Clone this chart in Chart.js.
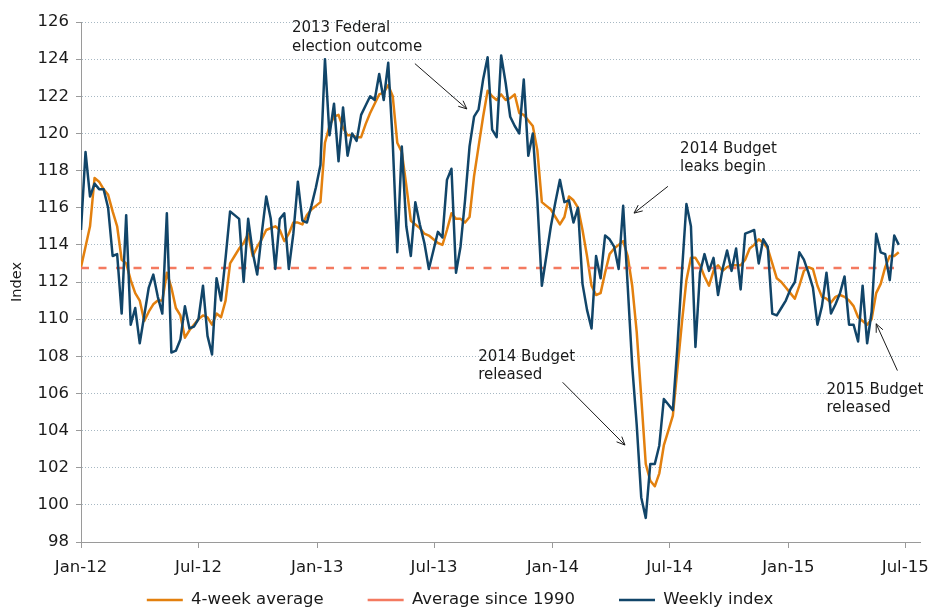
<!DOCTYPE html>
<html>
<head>
<meta charset="utf-8">
<script src="https://cdn.jsdelivr.net/npm/chart.js@4/dist/chart.umd.min.js"></script>
<style>
  html, body { margin: 0; padding: 0; background: #fff; }
  canvas { display: block; }
</style>
</head>
<body>
<canvas id="chart" width="931" height="608"></canvas>
<script>
// weekly consumer sentiment index, first week of Jan 2012 onwards (182 weeks)
const weeklyIndex = [
  114.8, 119.0, 116.6, 117.3, 117.0, 117.0, 116.0, 113.4, 113.5, 110.3,
  115.6, 109.7, 110.6, 108.7, 110.2, 111.7, 112.4, 111.2, 110.3, 115.7,
  108.2, 108.3, 108.9, 110.7, 109.5, 109.6, 110.0, 111.8, 109.1, 108.1,
  112.2, 111.0, 113.3, 115.8, 115.6, 115.4, 112.0, 115.4, 113.6, 112.4,
  114.6, 116.6, 115.4, 112.7, 115.4, 115.7, 112.7, 114.6, 117.4, 115.3,
  115.2, 116.1, 117.1, 118.3, 124.0, 119.9, 121.6, 118.5, 121.4, 118.8,
  120.0, 119.6, 121.0, 121.5, 122.0, 121.8, 123.2, 121.8, 123.8, 119.5,
  113.6, 119.3, 115.0, 113.4, 116.3, 115.1, 114.1, 112.7, 113.7, 114.7,
  114.4, 117.5, 118.1, 112.5, 113.9, 116.4, 119.3, 120.9, 121.3, 122.9,
  124.1, 120.2, 119.8, 124.2, 122.7, 120.9, 120.4, 120.0, 122.9, 118.8,
  120.0, 116.4, 111.8, 113.4, 115.0, 116.3, 117.5, 116.3, 116.4, 115.2,
  116.0, 111.9, 110.5, 109.5, 113.4, 112.2, 114.5, 114.3, 113.9, 112.7,
  116.1, 111.8, 107.5, 104.3, 100.4, 99.3, 102.2, 102.2, 103.2, 105.7,
  105.4, 105.1, 108.5, 112.5, 116.2, 115.0, 108.5, 112.5, 113.5, 112.6,
  113.3, 111.3, 112.7, 113.7, 112.6, 113.8, 111.6, 114.6, 114.7, 114.8,
  113.0, 114.3, 113.9, 110.3, 110.2, 110.6, 111.0, 111.6, 112.0, 113.6,
  113.2, 112.5, 111.7, 109.7, 110.7, 112.5, 110.3, 110.8, 111.4, 112.3,
  109.7, 109.7, 108.8, 111.8, 108.7, 110.4, 114.6, 113.6, 113.5, 112.1,
  114.5, 114.0
];

const fourWeekAvg = [
  112.8, 113.9, 115.0, 117.6, 117.4, 117.0, 116.7, 115.8, 115.0, 113.2,
  113.0, 112.1, 111.4, 111.0, 109.9, 110.4, 110.8, 111.0, 111.0, 112.5,
  111.7, 110.6, 110.2, 109.0, 109.4, 109.7, 110.0, 110.2, 110.1, 109.7,
  110.3, 110.1, 111.0, 113.0, 113.4, 113.8, 114.1, 114.6, 113.4, 113.9,
  114.3, 114.8, 114.9, 115.0, 114.8, 114.2, 114.6, 115.2, 115.2, 115.1,
  115.6, 115.9, 116.1, 116.3, 119.5, 120.4, 120.9, 121.0, 120.3, 119.9,
  119.9, 119.8, 119.8, 120.5, 121.1, 121.6, 122.1, 122.2, 122.6, 122.0,
  119.5, 119.0, 117.2, 115.3, 115.1, 114.9, 114.6, 114.5, 114.3, 114.1,
  114.0, 114.8, 115.7, 115.4, 115.4, 115.2, 115.5, 117.7, 119.3, 120.9,
  122.3, 122.0, 121.8, 122.1, 121.8, 121.9, 122.1, 121.1, 121.0, 120.7,
  120.4, 119.1, 116.3, 116.1, 115.9, 115.5, 115.1, 115.5, 116.6, 116.4,
  116.0, 114.8, 113.4, 111.8, 111.3, 111.4, 112.5, 113.5, 113.8, 114.0,
  114.2, 113.4, 111.8, 109.3, 105.8, 102.2, 101.3, 101.0, 101.7, 103.2,
  104.0, 104.8, 107.3, 109.8, 112.1, 113.3, 113.3, 112.9, 112.3, 111.8,
  112.6, 112.9, 112.6, 112.8, 112.9, 112.9, 112.9, 113.2, 113.8, 114.0,
  114.3, 114.1, 113.8, 113.0, 112.2, 112.0, 111.7, 111.4, 111.1, 111.8,
  112.6, 112.8, 112.7, 111.8, 111.2, 111.1, 110.9, 111.2, 111.3, 111.2,
  111.0, 110.7, 110.1, 109.9, 109.7, 110.0, 111.4, 111.9, 112.8, 113.4,
  113.4, 113.6
];

const avgSince1990 = 112.75;

// x axis is weeks since the first week of Jan 2012
const tickWeeks = [0, 26, 52.29, 78.14, 104.43, 130.29, 156.57, 182.43];
const tickLabels = ['Jan-12', 'Jul-12', 'Jan-13', 'Jul-13', 'Jan-14', 'Jul-14', 'Jan-15', 'Jul-15'];

// callouts: text anchor and arrow, in (week, index) units
const notes = [
  { lines: ['2013 Federal', 'election outcome'], at: [46.7, 125.65], from: [73.9, 123.76], to: [85.4, 121.32] },
  { lines: ['2014 Budget', 'leaks begin'], at: [132.6, 119.16], from: [129.9, 117.15], to: [122.4, 115.71] },
  { lines: ['2014 Budget', 'released'], at: [87.9, 107.98], from: [106.6, 106.6], to: [120.4, 103.22] },
  { lines: ['2015 Budget', 'released'], at: [165.0, 106.19], from: [180.7, 107.23], to: [176.0, 109.75] },
];

const FONT = 'DejaVu Sans';
const toXY = arr => arr.map((v, i) => ({ x: i, y: v }));

const calloutPlugin = {
  id: 'callouts',
  afterDatasetsDraw(chart) {
    const { ctx, scales: { x, y } } = chart;
    ctx.save();
    ctx.fillStyle = '#1a1a1a';
    ctx.strokeStyle = '#1a1a1a';
    ctx.lineWidth = 1;
    ctx.font = '15px "' + FONT + '"';
    ctx.textAlign = 'left';
    ctx.textBaseline = 'middle';
    notes.forEach(n => {
      const tx = x.getPixelForValue(n.at[0]);
      const ty = y.getPixelForValue(n.at[1]);
      n.lines.forEach((t, k) => ctx.fillText(t, tx, ty + k * 18.5));

      const x1 = x.getPixelForValue(n.from[0]), y1 = y.getPixelForValue(n.from[1]);
      const x2 = x.getPixelForValue(n.to[0]), y2 = y.getPixelForValue(n.to[1]);
      ctx.beginPath();
      ctx.moveTo(x1, y1);
      ctx.lineTo(x2, y2);
      const a = Math.atan2(y2 - y1, x2 - x1);
      const h = 9, spread = 0.42;
      ctx.moveTo(x2 - h * Math.cos(a - spread), y2 - h * Math.sin(a - spread));
      ctx.lineTo(x2, y2);
      ctx.lineTo(x2 - h * Math.cos(a + spread), y2 - h * Math.sin(a + spread));
      ctx.stroke();
    });
    ctx.restore();
  }
};

const ctx = document.getElementById('chart').getContext('2d');
new Chart(ctx, {
  type: 'line',
  data: {
    datasets: [
      {
        label: '4-week average',
        data: toXY(fourWeekAvg),
        borderColor: '#e3800e',
        borderWidth: 2.5,
        pointRadius: 0,
        borderJoinStyle: 'round',
        order: 2,
      },
      {
        label: 'Average since 1990',
        data: toXY(weeklyIndex.map(() => avgSince1990)),
        borderColor: '#f47a60',
        borderWidth: 2.5,
        borderDash: [8, 9.5],
        pointRadius: 0,
        order: 1,
      },
      {
        label: 'Weekly index',
        data: toXY(weeklyIndex),
        borderColor: '#114569',
        borderWidth: 2.5,
        pointRadius: 0,
        borderJoinStyle: 'round',
        order: 0,
      },
    ],
  },
  options: {
    responsive: false,
    animation: false,
    devicePixelRatio: 1,
    // legend is pushed partly below the canvas edge, as in the original
    layout: { padding: { top: 22, right: 11, left: 0, bottom: -10.25 } },
    plugins: {
      tooltip: { enabled: false },
      legend: {
        position: 'bottom',
        labels: {
          usePointStyle: true,
          pointStyle: 'line',
          pointStyleWidth: 36,
          padding: 44,
          color: '#1a1a1a',
          font: { family: FONT, size: 16.5 },
          sort: (a, b) => a.datasetIndex - b.datasetIndex,
        },
      },
    },
    scales: {
      x: {
        type: 'linear',
        min: 0,
        max: 185.7,
        afterBuildTicks: scale => {
          scale.ticks = tickWeeks.map(v => ({ value: v }));
        },
        afterFit: scale => {
          // thin axis box so the legend sits close; let the labels spill out of it
          scale.height = 5.75;
          scale.paddingLeft = 0;
          scale.paddingRight = 0;
          scale._computeLabelArea = () => undefined;
        },
        ticks: {
          autoSkip: false,
          maxRotation: 0,
          padding: 10,
          color: '#1a1a1a',
          font: { family: FONT, size: 16.5 },
          callback: (value, index) => tickLabels[index],
        },
        grid: {
          drawOnChartArea: false,
          drawTicks: true,
          tickLength: 6,
          tickColor: '#9a9a9a',
        },
        border: { color: '#9a9a9a', width: 1 },
      },
      y: {
        min: 98,
        max: 126,
        afterFit: scale => {
          scale.width = 81;
        },
        ticks: {
          stepSize: 2,
          padding: 7,
          color: '#1a1a1a',
          font: { family: FONT, size: 16.5 },
        },
        title: {
          display: true,
          text: 'Index',
          color: '#1a1a1a',
          font: { family: FONT, size: 14.5 },
          padding: { top: 9, bottom: 0 },
        },
        grid: {
          color: '#a7b8c3',
          lineWidth: 1,
          tickLength: 5,
          tickColor: '#9a9a9a',
          tickBorderDash: [],
        },
        border: { color: '#9a9a9a', width: 1, dash: [1, 2] },
      },
    },
  },
  plugins: [calloutPlugin],
});
</script>
</body>
</html>
